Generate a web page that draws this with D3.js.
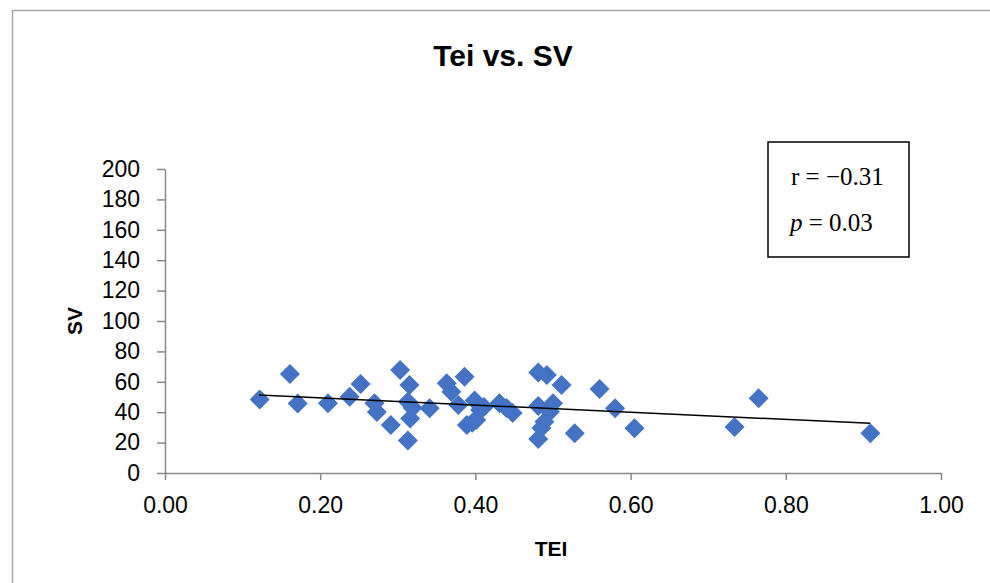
<!DOCTYPE html>
<html>
<head>
<meta charset="utf-8">
<script src="https://cdn.jsdelivr.net/npm/d3@7"></script>
<style>
  body { margin: 0; background: #fff; }
  svg { display: block; }
</style>
</head>
<body>
<div id="myDataVis"><svg></svg></div>
<script>
// data
const teiValues = [0.122, 0.161, 0.171, 0.210, 0.238, 0.252, 0.270, 0.273, 0.291, 0.303,
                   0.315, 0.313, 0.319, 0.316, 0.313, 0.341, 0.363, 0.369, 0.378, 0.386,
                   0.389, 0.399, 0.406, 0.401, 0.396, 0.411, 0.431, 0.440, 0.448, 0.481,
                   0.492, 0.511, 0.481, 0.500, 0.496, 0.489, 0.485, 0.481, 0.528, 0.560,
                   0.580, 0.605, 0.734, 0.765, 0.909];
const svValues  = [48.4, 65.1, 45.7, 45.9, 50.2, 58.6, 45.9, 40.1, 31.6, 67.8,
                   57.9, 46.9, 43.0, 35.9, 21.4, 42.6, 59.0, 53.5, 44.7, 63.4,
                   31.6, 47.7, 41.4, 34.9, 33.0, 43.4, 45.9, 42.8, 39.5, 66.1,
                   64.5, 57.9, 44.1, 45.9, 40.3, 33.7, 29.6, 22.4, 26.1, 55.3,
                   42.6, 29.4, 30.3, 49.1, 26.1];
const trendX = [0.121, 0.909];
const trendY = [51.3, 32.7];
const xTicks = [0, 0.2, 0.4, 0.6, 0.8, 1.0];
const yTicks = [0, 20, 40, 60, 80, 100, 120, 140, 160, 180, 200];
const statLines = ['r = \u22120.31', '= 0.03'];

const W = 990, H = 583;
const margin = {top: 169, right: 49, bottom: 110, left: 165};
const width = W - margin.left - margin.right;
const height = H - margin.top - margin.bottom;

const root = d3.select('#myDataVis').select('svg')
    .attr('width', W)
    .attr('height', H);

// outer chart border (only top/left visible in picture)
root.append('rect')
    .attr('x', 12.5).attr('y', 10.5)
    .attr('width', 1000).attr('height', 600)
    .attr('fill', 'none')
    .attr('stroke', '#a6a6a6')
    .attr('stroke-width', 1.5);

root.append('text')
    .attr('x', 503).attr('y', 66)
    .attr('text-anchor', 'middle')
    .style('font-family', 'Liberation Sans, Arial, sans-serif')
    .style('font-weight', 'bold')
    .style('font-size', '30px')
    .text('Tei vs. SV');

const svg = root.append('g')
    .attr('transform', `translate(${margin.left},${margin.top})`);

const x = d3.scaleLinear().domain([0, 1]).range([0, width]);
const y = d3.scaleLinear().domain([0, 200]).range([height, 0]);

const axisFont = g => g.selectAll('text')
    .style('font-family', 'Liberation Sans, Arial, sans-serif')
    .style('font-size', '23px')
    .attr('fill', '#000');

svg.append('g')
    .attr('class', 'x-axis')
    .attr('transform', `translate(0,${height})`)
    .call(d3.axisBottom(x).tickValues(xTicks).tickFormat(d3.format('.2f')).tickSize(7).tickPadding(17).tickSizeOuter(0))
    .call(g => g.select('.domain').attr('stroke', '#898989').attr('stroke-width', 1.5))
    .call(g => g.selectAll('line').attr('stroke', '#898989').attr('stroke-width', 1.5))
    .call(axisFont);

svg.append('g')
    .attr('class', 'y-axis')
    .call(d3.axisLeft(y).tickValues(yTicks).tickSize(8).tickPadding(17).tickSizeOuter(0))
    .call(g => g.select('.domain').attr('stroke', '#898989').attr('stroke-width', 1.5))
    .call(g => g.selectAll('line').attr('stroke', '#898989').attr('stroke-width', 1.5))
    .call(axisFont);

// axis titles
svg.append('text')
    .attr('x', (x(0) + x(1)) / 2 - 2)
    .attr('y', height + 83)
    .attr('text-anchor', 'middle')
    .style('font-family', 'Liberation Sans, Arial, sans-serif')
    .style('font-weight', 'bold')
    .style('font-size', '21px')
    .text('TEI');

svg.append('text')
    .attr('transform', 'rotate(-90)')
    .attr('x', -y(100))
    .attr('y', -83)
    .attr('text-anchor', 'middle')
    .style('font-family', 'Liberation Sans, Arial, sans-serif')
    .style('font-weight', 'bold')
    .style('font-size', '21px')
    .text('SV');

// points
const points = teiValues.map((t, i) => ({tei: t, sv: svValues[i]}));
const diamond = d3.symbol().type(d3.symbolSquare).size(200);

svg.selectAll('path.pt')
    .data(points)
    .enter()
    .append('path')
    .attr('class', 'pt')
    .attr('d', diamond)
    .attr('transform', d => `translate(${x(d.tei)},${y(d.sv)}) rotate(45)`)
    .attr('fill', '#4472c4');

// trend line
const trend = trendX.map((t, i) => [t, trendY[i]]);
svg.append('path')
    .datum(trend)
    .attr('d', d3.line().x(d => x(d[0])).y(d => y(d[1])))
    .attr('stroke', '#000')
    .attr('stroke-width', 1.5)
    .attr('fill', 'none');

// stats box
const box = root.append('g').attr('transform', 'translate(768,142)');
box.append('rect')
    .attr('width', 141).attr('height', 115)
    .attr('fill', '#fff')
    .attr('stroke', '#000')
    .attr('stroke-width', 1.5);

box.append('text')
    .attr('x', 23).attr('y', 43)
    .style('font-family', 'Liberation Serif, Times New Roman, serif')
    .style('font-size', '25px')
    .text(statLines[0]);

const pLine = box.append('text')
    .attr('x', 22).attr('y', 89)
    .style('font-family', 'Liberation Serif, Times New Roman, serif')
    .style('font-size', '25px');
pLine.append('tspan').style('font-style', 'italic').text('p');
pLine.append('tspan').text(' ' + statLines[1]);
</script>
</body>
</html>
